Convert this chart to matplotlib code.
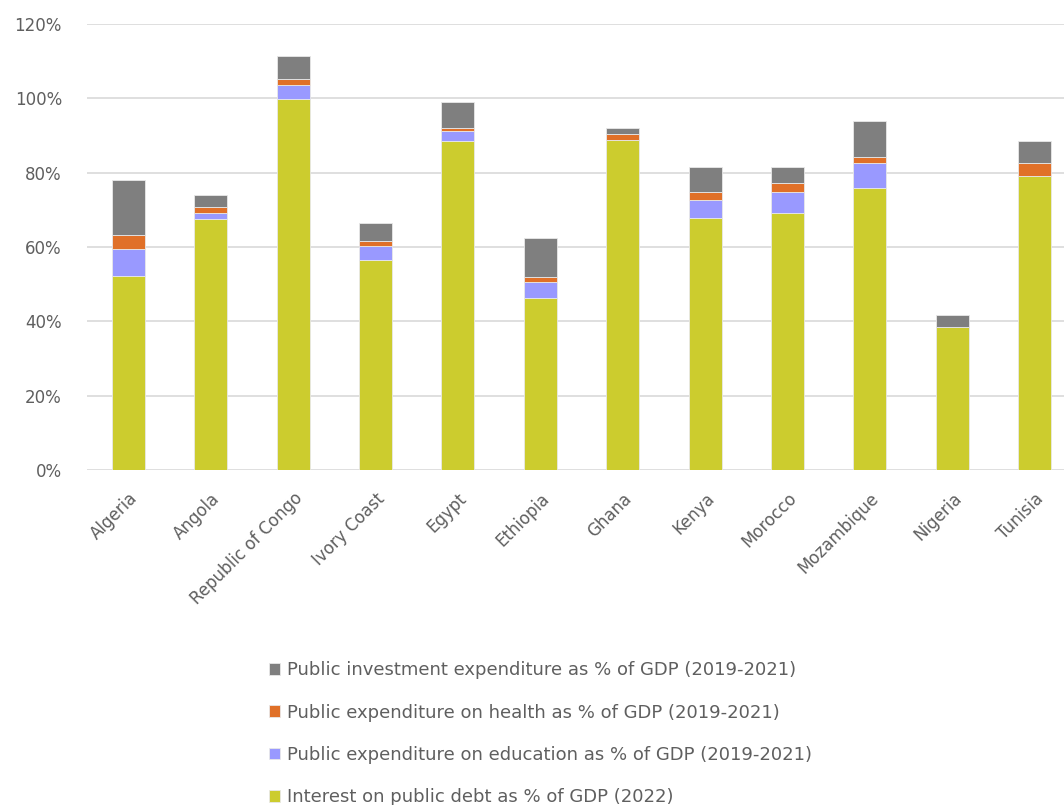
import matplotlib
matplotlib.use("Agg")
import matplotlib.pyplot as plt
import numpy as np
from matplotlib.ticker import PercentFormatter

# Data (% of GDP)
countries = ["Algeria", "Angola", "Republic of Congo", "Ivory Coast", "Egypt", "Ethiopia",
             "Ghana", "Kenya", "Morocco", "Mozambique", "Nigeria", "Tunisia"]
interest   = [52.3, 67.4, 99.7, 56.6, 88.4, 46.4, 88.9, 67.9, 69.1, 76.0, 38.4, 79.2]
education  = [7.1, 1.7, 3.8, 3.8, 2.7, 4.3, 0.0, 4.8, 5.8, 6.5, 0.0, 0.0]
health     = [3.7, 1.6, 1.6, 1.1, 1.0, 1.1, 1.6, 2.2, 2.2, 1.6, 0.0, 3.3]
investment = [15.0, 3.2, 6.4, 4.9, 7.0, 10.7, 1.6, 6.5, 4.3, 9.7, 3.2, 5.9]

labels = ["Interest on public debt as % of GDP (2022)",
          "Public expenditure on education as % of GDP (2019-2021)",
          "Public expenditure on health as % of GDP (2019-2021)",
          "Public investment expenditure as % of GDP (2019-2021)"]
colors = ["#CCCC2E", "#9999FF", "#E07028", "#7F7F7F"]

plt.rcParams['font.family'] = ['DejaVu Sans']
text_col = "#5F5F5F"

fig = plt.figure(figsize=(10.64, 8.05), dpi=100)
# axes runs a bit past the right edge, the reference image is cropped there
ax = fig.add_axes([87/1064, 1 - 470/805, (1076 - 87)/1064, (470 - 24)/805])

x = np.arange(len(countries))
bottom = np.zeros(len(countries))
handles = []
for series, col, lab in zip([interest, education, health, investment], colors, labels):
    vals = np.array(series)
    b = ax.bar(x, vals, 0.4, bottom=bottom, color=col, edgecolor="#E8E8E8",
               linewidth=0.6, label=lab, zorder=3)
    handles.append(b)
    bottom += vals

ax.set_xlim(-0.5, len(countries) - 0.5)
ax.set_ylim(0, 120)
ax.set_yticks(np.arange(0, 121, 20))
ax.yaxis.set_major_formatter(PercentFormatter(decimals=0))
ax.grid(axis="y", color="#D9D9D9", linewidth=1.2, zorder=0)
for s in ax.spines.values():
    s.set_visible(False)
ax.tick_params(axis="both", length=0, labelsize=12, labelcolor=text_col)
ax.tick_params(axis="y", pad=18)
ax.set_xticks(x)
ax.set_xticklabels(countries, rotation=45, ha="right", rotation_mode="anchor")
ax.tick_params(axis="x", pad=14)

fig.legend(handles[::-1], labels[::-1], loc="upper left",
           bbox_to_anchor=(262/1064, 1 - 654/805), frameon=False,
           fontsize=13, labelcolor=text_col, handlelength=0.6, handleheight=0.6,
           handletextpad=0.4, labelspacing=1.35, borderaxespad=0)

fig.savefig("out.png", dpi=100)
